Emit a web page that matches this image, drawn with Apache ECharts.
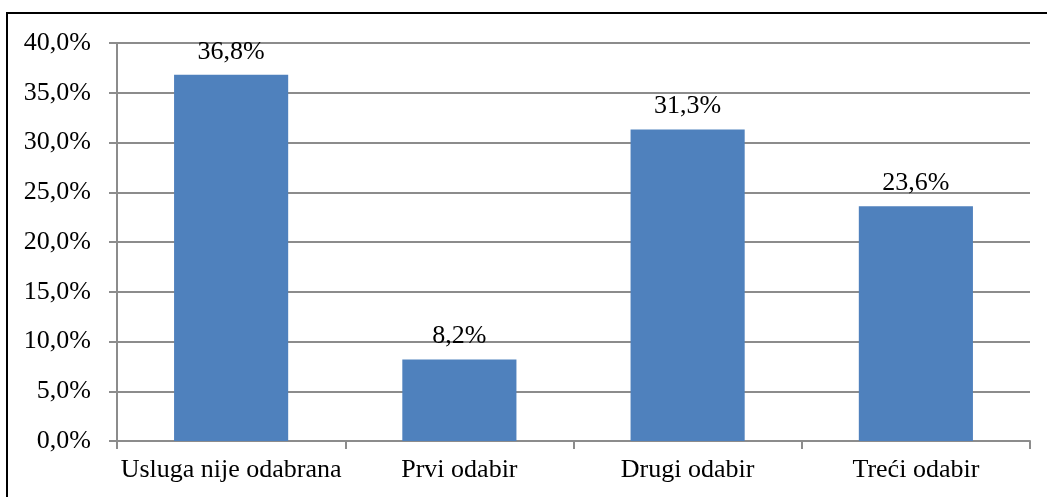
<!DOCTYPE html>
<html>
<head>
<meta charset="utf-8">
<script src="https://cdn.jsdelivr.net/npm/echarts@6/dist/echarts.min.js"></script>
<style>
  html, body { margin: 0; padding: 0; background: #fff; }
  #chart { width: 1047px; height: 497px; }
</style>
</head>
<body>
<div id="chart"></div>
<script>
// Categories and values
const categories = ['Usluga nije odabrana', 'Prvi odabir', 'Drugi odabir', 'Treći odabir'];
const shares = [36.8, 8.2, 31.3, 23.6];

const FONT = '"Liberation Serif", "DejaVu Serif", serif';
const fmt = v => v.toFixed(1).replace('.', ',') + '%';

const chart = echarts.init(document.getElementById('chart'));
chart.setOption({
    animation: false,
    grid: { left: 117, right: 17, top: 43, bottom: 56, containLabel: false },
    graphic: [{
        type: 'rect', silent: true,
        shape: { x: 7, y: 13, width: 1060, height: 500 },
        style: { fill: 'none', stroke: '#000', lineWidth: 2 }
    }],
    xAxis: {
        type: 'category', data: categories,
        axisLine: { lineStyle: { color: '#8c8c8c', width: 2 } },
        axisTick: { show: true, length: 8, alignWithLabel: false, lineStyle: { color: '#8c8c8c', width: 2 } },
        axisLabel: { color: '#000', fontSize: 26, fontFamily: FONT, margin: 16, interval: 0 }
    },
    yAxis: {
        type: 'value', min: 0, max: 40, interval: 5,
        axisLine: { show: true, lineStyle: { color: '#8c8c8c', width: 2 } },
        axisTick: { show: true, length: 8, lineStyle: { color: '#8c8c8c', width: 2 } },
        splitLine: { show: true, lineStyle: { color: '#8c8c8c', width: 2 } },
        axisLabel: { color: '#000', fontSize: 26, fontFamily: FONT, margin: 26, formatter: v => fmt(v) }
    },
    series: [{
        type: 'bar', data: shares, barWidth: '50%',
        itemStyle: { color: '#4f81bd' },
        label: {
            show: true, position: 'top', distance: 10,
            color: '#000', fontSize: 26, fontFamily: FONT,
            formatter: p => fmt(p.value)
        }
    }]
});
</script>
</body>
</html>
